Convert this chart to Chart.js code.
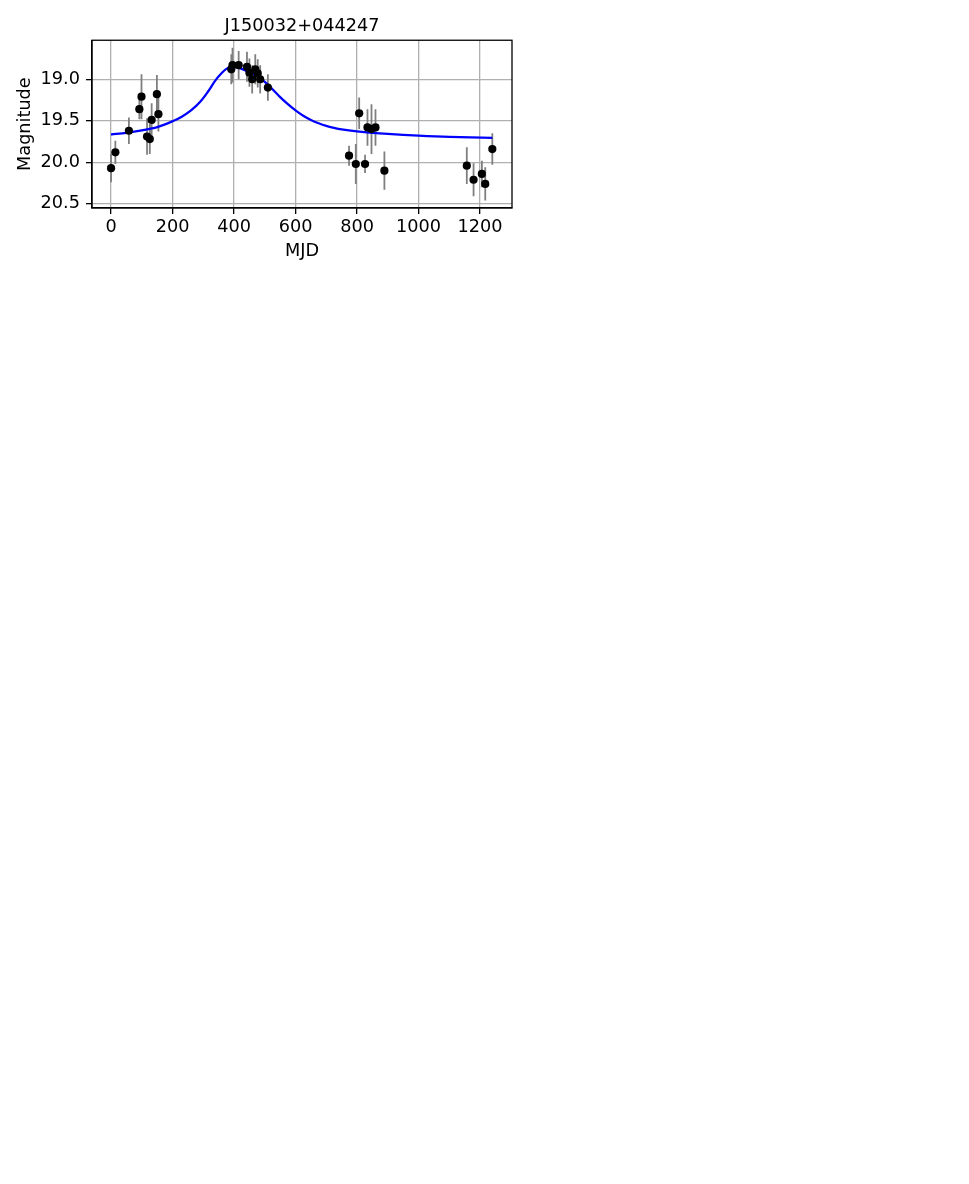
<!DOCTYPE html>
<html>
<head>
<meta charset="utf-8">
<script src="https://cdn.jsdelivr.net/npm/chart.js@4/dist/chart.umd.min.js"></script>
<style>
  html, body { margin: 0; padding: 0; background: #ffffff; width: 969px; height: 1184px; overflow: hidden; }
  #wrap { position: absolute; left: 0; top: 0; width: 540px; height: 270px; }
</style>
</head>
<body>
<div id="wrap"><canvas id="c" width="540" height="270"></canvas></div>
<script>
// ---- data ----
const titleText = "J150032+044247";
const xLabel = "MJD";
const yLabel = "Magnitude";

const obsMJD = [0, 14, 58, 92, 99, 117, 126, 132, 149, 154,
                391, 395, 415, 442, 450, 459, 469, 477, 485, 510,
                774, 796, 807, 826, 834, 847, 860, 889,
                1157, 1179, 1206, 1217, 1240];
const obsMag = [20.07, 19.88, 19.62, 19.36, 19.21, 19.69, 19.72, 19.49, 19.18, 19.42,
                18.88, 18.83, 18.83, 18.85, 18.92, 19.00, 18.88, 18.93, 19.00, 19.10,
                19.92, 20.02, 19.41, 20.02, 19.58, 19.60, 19.58, 20.10,
                20.04, 20.21, 20.14, 20.26, 19.84];
const obsErr = [0.17, 0.14, 0.16, 0.12, 0.27, 0.22, 0.18, 0.20, 0.23, 0.21,
                0.18, 0.21, 0.17, 0.18, 0.17, 0.17, 0.18, 0.17, 0.17, 0.16,
                0.12, 0.24, 0.19, 0.11, 0.22, 0.30, 0.22, 0.23,
                0.22, 0.20, 0.16, 0.20, 0.19];

const modelMJD = [0, 50, 100, 150, 200, 230, 260, 290, 315, 340, 360, 375, 390, 405, 425, 450, 475, 500, 525, 550, 575, 600, 625, 650, 675, 700, 725, 750, 800, 850, 900, 1000, 1100, 1240];
const modelMag = [19.665, 19.645, 19.615, 19.575, 19.505, 19.45, 19.375, 19.27, 19.15, 19.01, 18.925, 18.875, 18.85, 18.855, 18.875, 18.915, 18.965, 19.03, 19.12, 19.215, 19.30, 19.375, 19.44, 19.49, 19.53, 19.562, 19.585, 19.603, 19.627, 19.645, 19.658, 19.678, 19.693, 19.705];

const xTicks = [0, 200, 400, 600, 800, 1000, 1200];
const yTicks = [19.0, 19.5, 20.0, 20.5];
const xRange = [-62, 1304];
const yRange = [18.53, 20.55];

// ---- build datasets ----
const points = obsMJD.map((x, i) => ({ x: x, y: obsMag[i] }));
const model = modelMJD.map((x, i) => ({ x: x, y: modelMag[i] }));
const errSegs = [];
obsMJD.forEach((x, i) => {
  errSegs.push({ x: x, y: obsMag[i] - obsErr[i] });
  errSegs.push({ x: x, y: obsMag[i] + obsErr[i] });
  errSegs.push({ x: x, y: null });
});

const FONT = "'DejaVu Sans', sans-serif";

const framePlugin = {
  id: 'frame',
  afterDraw(chart) {
    const a = chart.chartArea, ctx = chart.ctx;
    ctx.save();
    ctx.strokeStyle = '#000000';
    ctx.lineWidth = 1.3;
    ctx.strokeRect(a.left, a.top, a.right - a.left, a.bottom - a.top);
    ctx.restore();
  }
};

new Chart(document.getElementById('c'), {
  type: 'scatter',
  data: {
    datasets: [
      { label: 'obs', data: points, order: 0, backgroundColor: '#000000', borderColor: '#000000',
        pointRadius: 4.1, pointHoverRadius: 4.1, borderWidth: 0, showLine: false },
      { label: 'model', data: model, order: 1, showLine: true, borderColor: '#0000ff', borderWidth: 2.3,
        pointRadius: 0, tension: 0.35, fill: false },
      { label: 'err', data: errSegs, order: 2, showLine: true, spanGaps: false, borderColor: '#7f7f7f',
        borderWidth: 1.8, pointRadius: 0, fill: false }
    ]
  },
  options: {
    responsive: false,
    animation: false,
    events: [],
    layout: { padding: { left: 0, right: 28, top: 0, bottom: 0 } },
    plugins: {
      legend: { display: false },
      tooltip: { enabled: false },
      title: {
        display: true, text: titleText, fullSize: false, color: '#000000',
        font: { family: FONT, size: 17.7, weight: 'normal' },
        padding: { top: 16, bottom: 3 }
      }
    },
    scales: {
      x: {
        type: 'linear', min: xRange[0], max: xRange[1],
        afterBuildTicks: s => { s.ticks = xTicks.map(v => ({ value: v })); },
        afterFit: s => { s.height = 62; },
        ticks: { color: '#000000', font: { family: FONT, size: 17.7 }, padding: 3, maxRotation: 0,
                 callback: v => String(v) },
        grid: { color: '#b0b0b0', lineWidth: 1.3, tickColor: '#000000', tickLength: 6, tickWidth: 1.3 },
        border: { color: '#000000', width: 1.3 },
        title: { display: true, text: xLabel, color: '#000000', font: { family: FONT, size: 17.7 },
                 padding: { top: 8, bottom: 8 } }
      },
      y: {
        type: 'linear', reverse: true, min: yRange[0], max: yRange[1],
        afterBuildTicks: s => { s.ticks = yTicks.map(v => ({ value: v })); },
        afterFit: s => { s.width = 92; },
        ticks: { color: '#000000', font: { family: FONT, size: 17.7 }, padding: 6,
                 callback: v => Number(v).toFixed(1) },
        grid: { color: '#b0b0b0', lineWidth: 1.3, tickColor: '#000000', tickLength: 6, tickWidth: 1.3 },
        border: { color: '#000000', width: 1.3 },
        title: { display: true, text: yLabel, color: '#000000', font: { family: FONT, size: 17.7 },
                 padding: { top: 15, bottom: 15 } }
      }
    }
  },
  plugins: [framePlugin]
});
</script>
</body>
</html>
